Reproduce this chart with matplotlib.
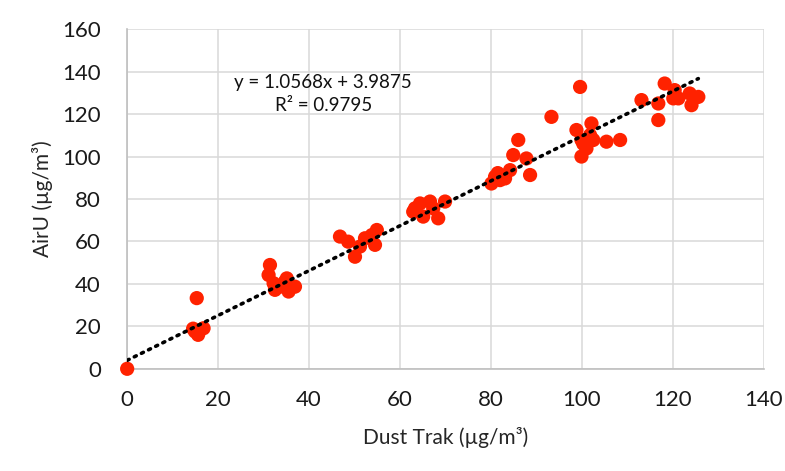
import numpy as np
import matplotlib.pyplot as plt

# Dust Trak (x) vs AirU (y), ug/m3
dust_trak = [0, 15.3, 14.9, 16.8, 15.6, 14.5,
             31.4, 31.1, 32.2, 32.5, 34.7, 35.5, 36.9, 35.1, 33.6,
             46.8, 48.6, 50.1, 52.3, 54.5, 54.9, 51.2, 53.8,
             63.3, 64.4, 65.1, 66.6, 67.3, 68.4, 69.9, 62.9,
             80.1, 80.9, 82.0, 83.1, 84.2, 84.9, 87.8, 88.6, 81.5, 86.0,
             93.3, 98.8, 102.1, 99.9, 101.8, 101.0, 99.9, 102.5, 105.4, 108.4, 100.3, 99.6,
             113.1, 116.8, 116.8, 118.2, 120.4, 120.1, 121.2, 123.7, 124.1, 125.6]
airu = [0, 33.3, 17.6, 19.1, 16.0, 18.9,
        48.9, 44.2, 40.3, 37.2, 41.1, 36.4, 38.7, 42.6, 38.7,
        62.3, 59.9, 52.8, 61.5, 58.4, 65.4, 57.6, 63.0,
        75.6, 77.9, 71.7, 78.8, 75.6, 70.9, 78.8, 74.0,
        87.3, 90.5, 88.9, 89.7, 93.6, 100.7, 99.1, 91.3, 92.2, 107.8,
        118.7, 112.5, 115.6, 107.8, 110.1, 103.8, 100.0, 107.8, 107.0, 107.8, 106.0, 132.8,
        126.6, 125.0, 117.2, 134.4, 131.3, 127.4, 127.4, 129.7, 124.2, 128.1]

slope, intercept = 1.0568, 3.9875
r_squared = 0.9795

plt.rcParams['font.family'] = ['Lato', 'DejaVu Sans']

fig = plt.figure(figsize=(7.85, 4.71), dpi=100)
ax = fig.add_axes([0.162, 0.217, 0.811, 0.721])

ax.scatter(dust_trak, airu, s=105, color="#ff2200", edgecolors="none",
           zorder=3, clip_on=False)

# linear trendline over the data range
xs = np.array([min(dust_trak), max(dust_trak)])
ax.plot(xs, slope * xs + intercept, color="black", linestyle=(0, (0.6, 1.6)),
        linewidth=2.6, dash_capstyle="round", zorder=4)

ax.text(43.1, 129.6, f"y = {slope}x + {intercept}\nR² = {r_squared}",
        ha="center", va="center", fontsize=13.5, color="#111111",
        linespacing=1.4)

ax.set_xlim(0, 140)
ax.set_ylim(0, 160)
ax.set_xticks(np.arange(0, 141, 20))
ax.set_yticks(np.arange(0, 161, 20))
ax.grid(True, color="#d9d9d9", linewidth=1.1, zorder=0)
ax.set_axisbelow(True)
ax.tick_params(length=0, labelsize=16, colors="#1a1a1a")
ax.tick_params(axis="x", pad=15)
ax.tick_params(axis="y", pad=19)

for side in ["top", "right"]:
    ax.spines[side].set_visible(False)
for side in ["left", "bottom"]:
    ax.spines[side].set_color("#bfbfbf")
    ax.spines[side].set_linewidth(1.2)

ax.set_xlabel("Dust Trak (µg/m³)", fontsize=15, color="#262626", va="center")
ax.set_ylabel("AirU (µg/m³)", fontsize=15, color="#262626", va="center")
ax.xaxis.set_label_coords(0.5, -0.203)
ax.yaxis.set_label_coords(-0.133, 0.5)

plt.savefig("out.png", dpi=100)
plt.close()
